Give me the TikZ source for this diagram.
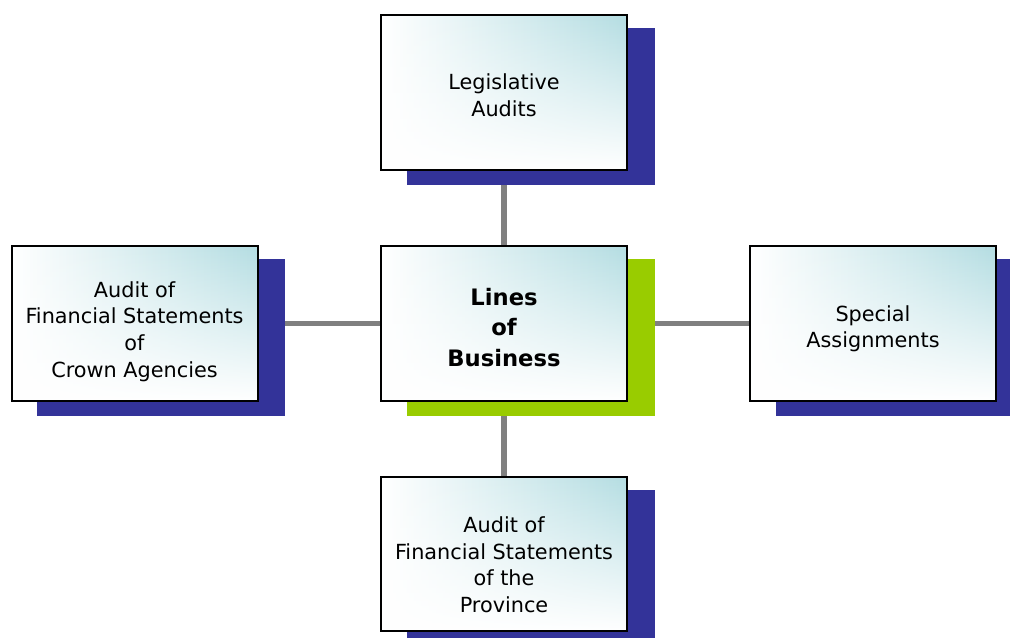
\documentclass[tikz,border=0pt]{standalone}
\usepackage{fontspec}
\setmainfont{DejaVu Sans}
\usetikzlibrary{fadings}
\definecolor{shadowblue}{RGB}{51,51,153}
\definecolor{shadowgreen}{RGB}{153,204,0}
\definecolor{boxteal}{RGB}{180,221,226}
\definecolor{linkgray}{RGB}{128,128,128}
\pgfdeclarelayer{links}
\pgfdeclarelayer{shadows}
\pgfsetlayers{links,shadows,main}
\tikzset{
  lobbox/.style={rectangle, inner sep=0pt, minimum width=184.5pt, minimum height=116pt,
    draw=black, line width=1.5pt, left color=white, right color=boxteal,
    path picture={\fill[white, path fading=north]
      (path picture bounding box.south west) rectangle (path picture bounding box.north east);}},
  lbl/.style={align=center, inner sep=0pt, font=\fontsize{15.6pt}{20pt}\selectfont},
  mainlbl/.style={align=center, inner sep=0pt, font=\fontsize{17pt}{23pt}\selectfont\bfseries},
  link/.style={draw=linkgray, line width=3.8pt},
  shadowbox/.style={fill=#1, draw=none},
}
\begin{document}
\begin{tikzpicture}[x=0.75pt,y=-0.75pt]
\useasboundingbox (0,0) rectangle (1010,637);
% boxes
\node[lobbox] (top) at (504,92.5) {};
\node[lobbox] (ctr) at (504,323.5) {};
\node[lobbox] (lft) at (134.5,323.5) {};
\node[lobbox] (rgt) at (873,323.5) {};
\node[lobbox] (bot) at (504,554) {};
% labels
\node[lbl] (topL) at ([yshift=-2pt]top.center) {Legislative\\Audits};
\node[mainlbl] (ctrL) at ([yshift=-3pt]ctr.center) {Lines\\of\\Business};
\node[lbl] (lftL) at ([yshift=-6pt]lft.center) {Audit of\\Financial Statements\\of\\Crown Agencies};
\node[lbl] (rgtL) at ([yshift=-4pt]rgt.center) {Special\\Assignments};
\node[lbl] (botL) at ([yshift=-8pt]bot.center) {Audit of\\Financial Statements\\of the\\Province};
% shadows
\begin{pgfonlayer}{shadows}
  \foreach \b/\c in {top/shadowblue, ctr/shadowgreen, lft/shadowblue, rgt/shadowblue, bot/shadowblue}{
    \fill[shadowbox=\c] ([xshift=20pt,yshift=-10.5pt]\b.south west) rectangle ([xshift=20pt,yshift=-10.5pt]\b.north east);
  }
\end{pgfonlayer}
% connectors
\begin{pgfonlayer}{links}
  \draw[link] (ctr) -- (top);
  \draw[link] (ctr) -- (bot);
  \draw[link] (ctr) -- (lft);
  \draw[link] (ctr) -- (rgt);
\end{pgfonlayer}
\end{tikzpicture}
\end{document}
